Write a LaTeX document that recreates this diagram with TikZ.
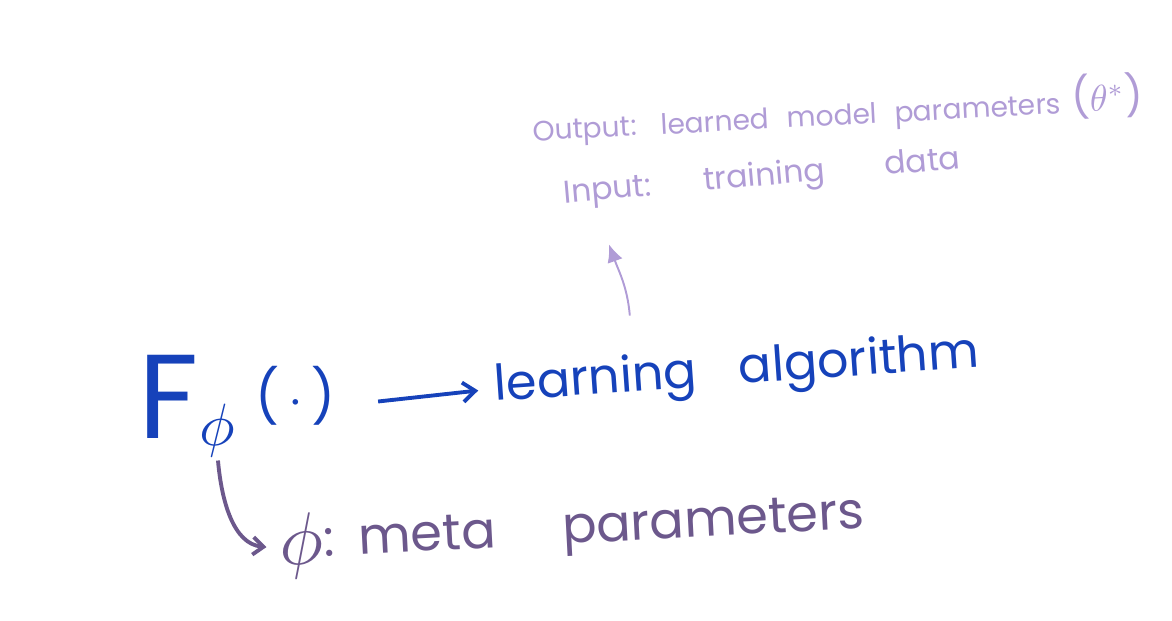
\documentclass[tikz,border=0pt]{standalone}
\usepackage{fontspec}
\setmainfont{Poppins}
\usetikzlibrary{arrows.meta}
\definecolor{cpen}{RGB}{22,66,186}
\definecolor{cmeta}{RGB}{108,88,140}
\definecolor{cnote}{RGB}{176,156,214}
\newcommand{\bigmath}[2]{\scalebox{#1}{\normalsize$#2$}}

\begin{document}
\begin{tikzpicture}[x=0.02cm,y=-0.02cm]
    \useasboundingbox (0,0) rectangle (1172,620);
    \node[text=cpen, anchor=base west, inner sep=2pt] (f) at (135,438)
         {\fontsize{68}{70}\selectfont F\fontsize{30}{32}\selectfont\raisebox{-4pt}{\bigmath{3.4}{\phi}}\hspace{12pt}\raisebox{13pt}{(\,\bigmath{3}{\cdot}\,)}};
    \node[text=cpen, rotate=4, font=\fontsize{28}{30}\selectfont] (alg) at (737,372)
         {learning\hspace{24pt}algorithm};
    \node[text=cmeta, rotate=3, font=\fontsize{29}{32}\selectfont] (meta) at (572,532)
         {\raisebox{-4pt}{\bigmath{4.2}{\phi}}:\hspace{14pt}meta\hspace{38pt}parameters};
    \node[text=cnote, rotate=3, font=\fontsize{16}{20}\selectfont] (out) at (838,110)
         {Output:\hspace{14pt}learned\hspace{10pt}model\hspace{10pt}parameters\hspace{6pt}{\fontsize{23}{26}\selectfont(\bigmath{2.1}{\theta^{*}})}};
    \node[text=cnote, rotate=5, font=\fontsize{18}{20}\selectfont] (in) at (762,178)
         {Input:\hspace{30pt}training\hspace{34pt}data};
    \draw[cpen, line width=2.2pt, -{Straight Barb[length=7pt,width=11pt]}, shorten <=22pt, shorten >=6pt]
         (f.east) -- (alg.west);
    \draw[cmeta, line width=2.2pt, -{Straight Barb[length=6pt,width=10pt]}, shorten >=4pt]
         ([xshift=1.66cm]f.south west) to[out=-85,in=175] (meta.west);
    \draw[cnote, line width=1.1pt, -{Latex[length=10pt,width=9pt]}]
         ([xshift=-2.1cm,yshift=0.5cm]alg.north) to[out=95,in=-70] ([xshift=-3.1cm,yshift=-0.88cm]in.south);
  \end{tikzpicture}
\end{document}
